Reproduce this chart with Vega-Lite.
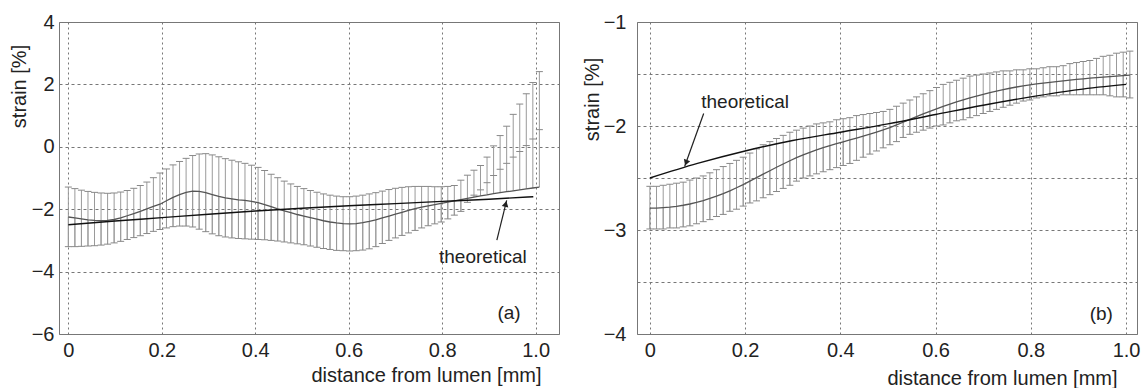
{
"$schema": "https://vega.github.io/schema/vega-lite/v6.json",
"background": "white",
"padding": {"left": 8, "top": 11, "right": 0, "bottom": 0},
"spacing": 21,
"config": {
 "view": {"stroke": "#777", "strokeWidth": 1},
 "font": "Liberation Sans",
 "axis": {"labelFont": "Liberation Sans", "titleFont": "Liberation Sans", "labelFontSize": 20, "titleFontSize": 20, "titleFontWeight": "normal", "labelColor": "#222", "titleColor": "#222", "domain": false, "ticks": false, "grid": true, "gridColor": "#777", "gridDash": [2, 3], "gridOpacity": 1, "gridWidth": 1, "labelOverlap": false, "labelFlush": false, "labelBound": false}
},
"datasets": {
 "a": [
  {"x":0,"hi":-1.29,"lo":-3.20,"m":-2.25},{"x":0.014,"hi":-1.34,"lo":-3.20,"m":-2.28},{"x":0.028,"hi":-1.39,"lo":-3.19,"m":-2.31},{"x":0.042,"hi":-1.43,"lo":-3.18,"m":-2.34},{"x":0.056,"hi":-1.46,"lo":-3.17,"m":-2.36},{"x":0.07,"hi":-1.48,"lo":-3.15,"m":-2.37},{"x":0.084,"hi":-1.49,"lo":-3.12,"m":-2.36},{"x":0.098,"hi":-1.48,"lo":-3.08,"m":-2.33},{"x":0.112,"hi":-1.45,"lo":-3.03,"m":-2.28},{"x":0.126,"hi":-1.40,"lo":-2.97,"m":-2.21},{"x":0.14,"hi":-1.33,"lo":-2.91,"m":-2.14},{"x":0.154,"hi":-1.24,"lo":-2.85,"m":-2.07},{"x":0.168,"hi":-1.13,"lo":-2.78,"m":-1.99},{"x":0.182,"hi":-0.99,"lo":-2.71,"m":-1.91},{"x":0.196,"hi":-0.84,"lo":-2.65,"m":-1.84},{"x":0.21,"hi":-0.71,"lo":-2.60,"m":-1.73},{"x":0.224,"hi":-0.58,"lo":-2.56,"m":-1.62},{"x":0.238,"hi":-0.47,"lo":-2.54,"m":-1.53},{"x":0.252,"hi":-0.37,"lo":-2.54,"m":-1.46},{"x":0.266,"hi":-0.28,"lo":-2.57,"m":-1.42},{"x":0.28,"hi":-0.23,"lo":-2.64,"m":-1.43},{"x":0.294,"hi":-0.22,"lo":-2.72,"m":-1.47},{"x":0.308,"hi":-0.26,"lo":-2.79,"m":-1.53},{"x":0.322,"hi":-0.32,"lo":-2.85,"m":-1.59},{"x":0.336,"hi":-0.38,"lo":-2.89,"m":-1.64},{"x":0.35,"hi":-0.43,"lo":-2.92,"m":-1.67},{"x":0.364,"hi":-0.48,"lo":-2.94,"m":-1.70},{"x":0.378,"hi":-0.53,"lo":-2.95,"m":-1.72},{"x":0.392,"hi":-0.59,"lo":-2.96,"m":-1.75},{"x":0.406,"hi":-0.66,"lo":-2.97,"m":-1.79},{"x":0.42,"hi":-0.76,"lo":-2.98,"m":-1.85},{"x":0.434,"hi":-0.88,"lo":-3.00,"m":-1.92},{"x":0.448,"hi":-0.99,"lo":-3.02,"m":-1.99},{"x":0.462,"hi":-1.10,"lo":-3.05,"m":-2.05},{"x":0.476,"hi":-1.19,"lo":-3.08,"m":-2.11},{"x":0.49,"hi":-1.27,"lo":-3.11,"m":-2.17},{"x":0.504,"hi":-1.34,"lo":-3.14,"m":-2.22},{"x":0.518,"hi":-1.40,"lo":-3.18,"m":-2.27},{"x":0.532,"hi":-1.46,"lo":-3.22,"m":-2.32},{"x":0.546,"hi":-1.51,"lo":-3.26,"m":-2.37},{"x":0.56,"hi":-1.55,"lo":-3.29,"m":-2.41},{"x":0.574,"hi":-1.58,"lo":-3.32,"m":-2.44},{"x":0.588,"hi":-1.60,"lo":-3.33,"m":-2.46},{"x":0.602,"hi":-1.60,"lo":-3.34,"m":-2.47},{"x":0.616,"hi":-1.58,"lo":-3.33,"m":-2.46},{"x":0.63,"hi":-1.55,"lo":-3.31,"m":-2.43},{"x":0.644,"hi":-1.51,"lo":-3.27,"m":-2.39},{"x":0.658,"hi":-1.47,"lo":-3.20,"m":-2.34},{"x":0.672,"hi":-1.42,"lo":-3.10,"m":-2.28},{"x":0.686,"hi":-1.37,"lo":-3.00,"m":-2.22},{"x":0.7,"hi":-1.33,"lo":-2.92,"m":-2.16},{"x":0.714,"hi":-1.30,"lo":-2.84,"m":-2.10},{"x":0.728,"hi":-1.28,"lo":-2.76,"m":-2.04},{"x":0.742,"hi":-1.27,"lo":-2.68,"m":-1.98},{"x":0.756,"hi":-1.27,"lo":-2.60,"m":-1.93},{"x":0.77,"hi":-1.27,"lo":-2.53,"m":-1.89},{"x":0.784,"hi":-1.28,"lo":-2.47,"m":-1.85},{"x":0.798,"hi":-1.28,"lo":-2.41,"m":-1.81},{"x":0.812,"hi":-1.27,"lo":-2.31,"m":-1.77},{"x":0.826,"hi":-1.24,"lo":-2.19,"m":-1.73},{"x":0.84,"hi":-1.07,"lo":-2.07,"m":-1.69},{"x":0.854,"hi":-0.91,"lo":-1.78,"m":-1.65},{"x":0.868,"hi":-0.75,"lo":-1.55,"m":-1.61},{"x":0.882,"hi":-0.60,"lo":-1.38,"m":-1.57},{"x":0.896,"hi":-0.33,"lo":-1.15,"m":-1.54},{"x":0.91,"hi":0.03,"lo":-0.92,"m":-1.50},{"x":0.924,"hi":0.36,"lo":-0.72,"m":-1.47},{"x":0.938,"hi":0.66,"lo":-0.53,"m":-1.44},{"x":0.952,"hi":1.04,"lo":-0.33,"m":-1.41},{"x":0.966,"hi":1.37,"lo":-0.15,"m":-1.38},{"x":0.98,"hi":1.70,"lo":0.04,"m":-1.35},{"x":0.994,"hi":2.06,"lo":0.25,"m":-1.32},{"x":1.008,"hi":2.41,"lo":0.55,"m":-1.29}
 ],
 "b": [
  {"x":0,"hi":-2.58,"lo":-2.99,"m":-2.79},{"x":0.014,"hi":-2.58,"lo":-2.99,"m":-2.79},{"x":0.028,"hi":-2.57,"lo":-2.99,"m":-2.785},{"x":0.042,"hi":-2.56,"lo":-2.98,"m":-2.78},{"x":0.056,"hi":-2.55,"lo":-2.98,"m":-2.772},{"x":0.07,"hi":-2.54,"lo":-2.97,"m":-2.762},{"x":0.084,"hi":-2.52,"lo":-2.96,"m":-2.75},{"x":0.098,"hi":-2.50,"lo":-2.94,"m":-2.735},{"x":0.112,"hi":-2.48,"lo":-2.92,"m":-2.717},{"x":0.126,"hi":-2.45,"lo":-2.90,"m":-2.697},{"x":0.14,"hi":-2.42,"lo":-2.87,"m":-2.675},{"x":0.154,"hi":-2.39,"lo":-2.85,"m":-2.65},{"x":0.168,"hi":-2.36,"lo":-2.82,"m":-2.623},{"x":0.182,"hi":-2.33,"lo":-2.80,"m":-2.594},{"x":0.196,"hi":-2.30,"lo":-2.77,"m":-2.563},{"x":0.21,"hi":-2.26,"lo":-2.74,"m":-2.53},{"x":0.224,"hi":-2.22,"lo":-2.72,"m":-2.497},{"x":0.238,"hi":-2.18,"lo":-2.69,"m":-2.463},{"x":0.252,"hi":-2.15,"lo":-2.66,"m":-2.43},{"x":0.266,"hi":-2.12,"lo":-2.63,"m":-2.397},{"x":0.28,"hi":-2.09,"lo":-2.60,"m":-2.365},{"x":0.294,"hi":-2.06,"lo":-2.57,"m":-2.334},{"x":0.308,"hi":-2.04,"lo":-2.53,"m":-2.305},{"x":0.322,"hi":-2.02,"lo":-2.50,"m":-2.278},{"x":0.336,"hi":-2.00,"lo":-2.48,"m":-2.253},{"x":0.35,"hi":-1.98,"lo":-2.46,"m":-2.23},{"x":0.364,"hi":-1.97,"lo":-2.44,"m":-2.209},{"x":0.378,"hi":-1.96,"lo":-2.42,"m":-2.189},{"x":0.392,"hi":-1.94,"lo":-2.40,"m":-2.17},{"x":0.406,"hi":-1.93,"lo":-2.38,"m":-2.152},{"x":0.42,"hi":-1.92,"lo":-2.36,"m":-2.134},{"x":0.434,"hi":-1.90,"lo":-2.33,"m":-2.116},{"x":0.448,"hi":-1.89,"lo":-2.30,"m":-2.098},{"x":0.462,"hi":-1.88,"lo":-2.27,"m":-2.079},{"x":0.476,"hi":-1.87,"lo":-2.24,"m":-2.059},{"x":0.49,"hi":-1.86,"lo":-2.21,"m":-2.038},{"x":0.504,"hi":-1.84,"lo":-2.18,"m":-2.015},{"x":0.518,"hi":-1.81,"lo":-2.15,"m":-1.99},{"x":0.532,"hi":-1.78,"lo":-2.11,"m":-1.964},{"x":0.546,"hi":-1.75,"lo":-2.08,"m":-1.937},{"x":0.56,"hi":-1.72,"lo":-2.06,"m":-1.91},{"x":0.574,"hi":-1.69,"lo":-2.04,"m":-1.884},{"x":0.588,"hi":-1.66,"lo":-2.02,"m":-1.859},{"x":0.602,"hi":-1.63,"lo":-2.00,"m":-1.835},{"x":0.616,"hi":-1.60,"lo":-1.99,"m":-1.812},{"x":0.63,"hi":-1.58,"lo":-1.97,"m":-1.79},{"x":0.644,"hi":-1.56,"lo":-1.95,"m":-1.769},{"x":0.658,"hi":-1.54,"lo":-1.94,"m":-1.749},{"x":0.672,"hi":-1.52,"lo":-1.92,"m":-1.73},{"x":0.686,"hi":-1.51,"lo":-1.90,"m":-1.712},{"x":0.7,"hi":-1.50,"lo":-1.88,"m":-1.695},{"x":0.714,"hi":-1.49,"lo":-1.86,"m":-1.679},{"x":0.728,"hi":-1.48,"lo":-1.84,"m":-1.664},{"x":0.742,"hi":-1.47,"lo":-1.82,"m":-1.65},{"x":0.756,"hi":-1.47,"lo":-1.80,"m":-1.637},{"x":0.77,"hi":-1.46,"lo":-1.78,"m":-1.625},{"x":0.784,"hi":-1.46,"lo":-1.76,"m":-1.614},{"x":0.798,"hi":-1.45,"lo":-1.75,"m":-1.604},{"x":0.812,"hi":-1.45,"lo":-1.73,"m":-1.595},{"x":0.826,"hi":-1.44,"lo":-1.72,"m":-1.587},{"x":0.84,"hi":-1.43,"lo":-1.71,"m":-1.58},{"x":0.854,"hi":-1.43,"lo":-1.71,"m":-1.573},{"x":0.868,"hi":-1.42,"lo":-1.70,"m":-1.566},{"x":0.882,"hi":-1.40,"lo":-1.70,"m":-1.559},{"x":0.896,"hi":-1.39,"lo":-1.70,"m":-1.552},{"x":0.91,"hi":-1.38,"lo":-1.70,"m":-1.546},{"x":0.924,"hi":-1.37,"lo":-1.70,"m":-1.54},{"x":0.938,"hi":-1.35,"lo":-1.70,"m":-1.535},{"x":0.952,"hi":-1.33,"lo":-1.70,"m":-1.53},{"x":0.966,"hi":-1.32,"lo":-1.71,"m":-1.525},{"x":0.98,"hi":-1.30,"lo":-1.72,"m":-1.52},{"x":0.994,"hi":-1.29,"lo":-1.72,"m":-1.515},{"x":1.008,"hi":-1.28,"lo":-1.73,"m":-1.51}
 ],
 "ta": [{"x":0,"y":-2.5},{"x":0.1,"y":-2.38},{"x":0.2,"y":-2.27},{"x":0.3,"y":-2.16},{"x":0.4,"y":-2.06},{"x":0.5,"y":-1.97},{"x":0.6,"y":-1.89},{"x":0.7,"y":-1.82},{"x":0.8,"y":-1.75},{"x":0.9,"y":-1.68},{"x":0.995,"y":-1.6}],
 "tb": [{"x":0,"y":-2.5},{"x":0.1,"y":-2.36},{"x":0.2,"y":-2.24},{"x":0.3,"y":-2.14},{"x":0.4,"y":-2.06},{"x":0.5,"y":-1.98},{"x":0.6,"y":-1.89},{"x":0.7,"y":-1.8},{"x":0.8,"y":-1.72},{"x":0.9,"y":-1.65},{"x":1.0,"y":-1.6}],
 "annA": [{"x":0.887,"y":-3.54,"t":"theoretical"},{"x":0.943,"y":-5.34,"t":"(a)"}],
 "annB": [{"x":0.2,"y":-1.77,"t":"theoretical"},{"x":0.948,"y":-3.81,"t":"(b)"}],
 "arrA": [{"x":0.917,"y":-2.99,"x2":0.938,"y2":-1.72,"hx":0.936,"hy":-1.83}],
 "arrB": [{"x":0.113,"y":-1.88,"x2":0.073,"y2":-2.39,"hx":0.076,"hy":-2.353}]
},
"hconcat": [
 {
  "width": 500, "height": 312,
  "layer": [
   {"data": {"name": "a"}, "mark": {"type": "rule", "color": "#9a9a9a", "strokeWidth": 1},
    "encoding": {
     "x": {"field": "x", "type": "quantitative", "title": "distance from lumen [mm]", "scale": {"domain": [-0.02, 1.05], "nice": false, "zero": false},
      "axis": {"values": [0, 0.2, 0.4, 0.6, 0.8, 1], "labelExpr": "datum.value == 0 ? '0' : format(datum.value, '.1f')", "labelPadding": 6, "titleX": 367, "titleY": 41, "titleAlign": "center", "titleBaseline": "middle", "gridDash": [2, 3]}},
     "y": {"field": "lo", "type": "quantitative", "title": "strain [%]", "scale": {"domain": [-6, 4], "nice": false, "zero": false},
      "axis": {"values": [-6, -4, -2, 0, 2, 4], "format": "d", "labelPadding": 5, "titleX": -40, "titleY": 64, "titleAngle": 270, "titleAlign": "center", "titleBaseline": "middle", "gridDash": [3, 3]}},
     "y2": {"field": "hi"}}},
   {"data": {"name": "a"}, "mark": {"type": "rule", "color": "#9a9a9a", "strokeWidth": 1},
    "encoding": {"x": {"field": "x", "type": "quantitative", "title": "distance from lumen [mm]"}, "y": {"field": "m", "type": "quantitative", "title": "strain [%]"}, "y2": {"field": "lo"}}},
   {"data": {"name": "a"}, "mark": {"type": "tick", "orient": "horizontal", "size": 7, "thickness": 1, "color": "#888", "opacity": 1},
    "encoding": {"x": {"field": "x", "type": "quantitative", "title": "distance from lumen [mm]"}, "y": {"field": "hi", "type": "quantitative", "title": "strain [%]"}}},
   {"data": {"name": "a"}, "mark": {"type": "tick", "orient": "horizontal", "size": 7, "thickness": 1, "color": "#888", "opacity": 1},
    "encoding": {"x": {"field": "x", "type": "quantitative", "title": "distance from lumen [mm]"}, "y": {"field": "lo", "type": "quantitative", "title": "strain [%]"}}},
   {"data": {"name": "a"}, "mark": {"type": "line", "color": "#555", "strokeWidth": 1.3},
    "encoding": {"x": {"field": "x", "type": "quantitative", "title": "distance from lumen [mm]"}, "y": {"field": "m", "type": "quantitative", "title": "strain [%]"}}},
   {"data": {"name": "ta"}, "mark": {"type": "line", "color": "#111", "strokeWidth": 1.4, "interpolate": "monotone"},
    "encoding": {"x": {"field": "x", "type": "quantitative", "title": "distance from lumen [mm]"}, "y": {"field": "y", "type": "quantitative", "title": "strain [%]"}}},
   {"data": {"name": "annA"}, "mark": {"type": "text", "font": "Liberation Sans", "fontSize": 19, "color": "#222", "align": "center", "baseline": "middle"},
    "encoding": {"x": {"field": "x", "type": "quantitative", "title": "distance from lumen [mm]"}, "y": {"field": "y", "type": "quantitative", "title": "strain [%]"}, "text": {"field": "t"}}},
   {"data": {"name": "arrA"}, "mark": {"type": "rule", "color": "#222", "strokeWidth": 1.2},
    "encoding": {"x": {"field": "x", "type": "quantitative", "title": "distance from lumen [mm]"}, "y": {"field": "y", "type": "quantitative", "title": "strain [%]"}, "x2": {"field": "x2"}, "y2": {"field": "y2"}}},
   {"data": {"name": "arrA"}, "mark": {"type": "point", "shape": "triangle-up", "filled": true, "color": "#222", "opacity": 1, "size": 45, "angle": 14},
    "encoding": {"x": {"field": "hx", "type": "quantitative", "title": "distance from lumen [mm]"}, "y": {"field": "hy", "type": "quantitative", "title": "strain [%]"}}}
  ]
 },
 {
  "width": 500, "height": 312,
  "layer": [
   {"data": {"name": "b"}, "mark": {"type": "rule", "color": "#9a9a9a", "strokeWidth": 1},
    "encoding": {
     "x": {"field": "x", "type": "quantitative", "title": "distance from lumen [mm]", "scale": {"domain": [-0.027, 1.023], "nice": false, "zero": false},
      "axis": {"values": [0, 0.2, 0.4, 0.6, 0.8, 1], "labelExpr": "datum.value == 0 ? '0' : format(datum.value, '.1f')", "labelPadding": 6, "titleX": 365, "titleY": 44, "titleAlign": "center", "titleBaseline": "middle", "gridDash": [2, 3]}},
     "y": {"field": "lo", "type": "quantitative", "title": "strain [%]", "scale": {"domain": [-4, -1], "nice": false, "zero": false},
      "axis": {"values": [-4, -3.5, -3, -2.5, -2, -1.5, -1], "labelExpr": "datum.value % 1 == 0 ? format(datum.value, 'd') : ''", "labelPadding": 11, "titleX": -45, "titleY": 77, "titleAngle": 270, "titleAlign": "center", "titleBaseline": "middle", "gridDash": [3, 3]}},
     "y2": {"field": "hi"}}},
   {"data": {"name": "b"}, "mark": {"type": "rule", "color": "#9a9a9a", "strokeWidth": 1},
    "encoding": {"x": {"field": "x", "type": "quantitative", "title": "distance from lumen [mm]"}, "y": {"field": "m", "type": "quantitative", "title": "strain [%]"}, "y2": {"field": "lo"}}},
   {"data": {"name": "b"}, "mark": {"type": "tick", "orient": "horizontal", "size": 7, "thickness": 1, "color": "#888", "opacity": 1},
    "encoding": {"x": {"field": "x", "type": "quantitative", "title": "distance from lumen [mm]"}, "y": {"field": "hi", "type": "quantitative", "title": "strain [%]"}}},
   {"data": {"name": "b"}, "mark": {"type": "tick", "orient": "horizontal", "size": 7, "thickness": 1, "color": "#888", "opacity": 1},
    "encoding": {"x": {"field": "x", "type": "quantitative", "title": "distance from lumen [mm]"}, "y": {"field": "lo", "type": "quantitative", "title": "strain [%]"}}},
   {"data": {"name": "b"}, "mark": {"type": "line", "color": "#555", "strokeWidth": 1.3},
    "encoding": {"x": {"field": "x", "type": "quantitative", "title": "distance from lumen [mm]"}, "y": {"field": "m", "type": "quantitative", "title": "strain [%]"}}},
   {"data": {"name": "tb"}, "mark": {"type": "line", "color": "#111", "strokeWidth": 1.4, "interpolate": "monotone"},
    "encoding": {"x": {"field": "x", "type": "quantitative", "title": "distance from lumen [mm]"}, "y": {"field": "y", "type": "quantitative", "title": "strain [%]"}}},
   {"data": {"name": "annB"}, "mark": {"type": "text", "font": "Liberation Sans", "fontSize": 19, "color": "#222", "align": "center", "baseline": "middle"},
    "encoding": {"x": {"field": "x", "type": "quantitative", "title": "distance from lumen [mm]"}, "y": {"field": "y", "type": "quantitative", "title": "strain [%]"}, "text": {"field": "t"}}},
   {"data": {"name": "arrB"}, "mark": {"type": "rule", "color": "#222", "strokeWidth": 1.2},
    "encoding": {"x": {"field": "x", "type": "quantitative", "title": "distance from lumen [mm]"}, "y": {"field": "y", "type": "quantitative", "title": "strain [%]"}, "x2": {"field": "x2"}, "y2": {"field": "y2"}}},
   {"data": {"name": "arrB"}, "mark": {"type": "point", "shape": "triangle-up", "filled": true, "color": "#222", "opacity": 1, "size": 45, "angle": 200},
    "encoding": {"x": {"field": "hx", "type": "quantitative", "title": "distance from lumen [mm]"}, "y": {"field": "hy", "type": "quantitative", "title": "strain [%]"}}}
  ]
 }
]
}
